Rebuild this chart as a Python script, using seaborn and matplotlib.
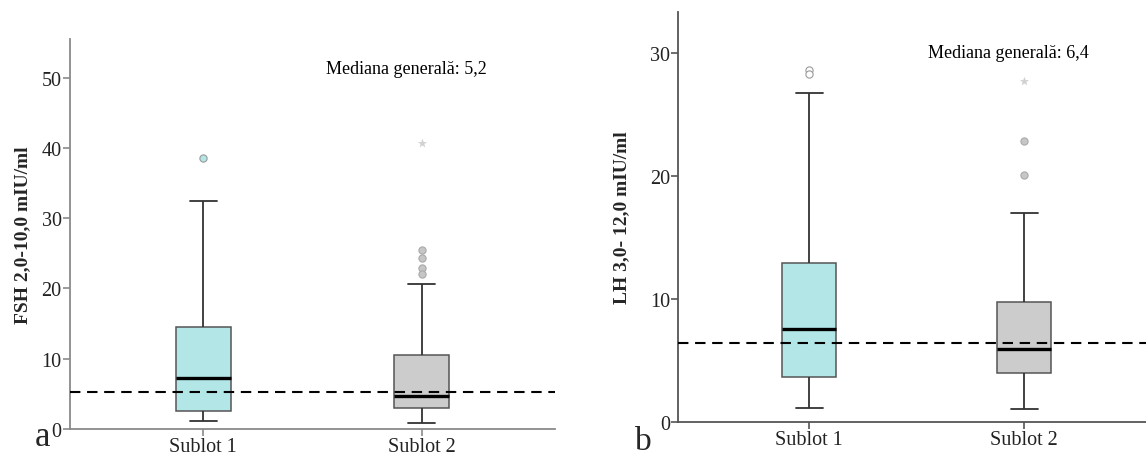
import numpy as np
import pandas as pd
import matplotlib
matplotlib.use("Agg")
import matplotlib.pyplot as plt
import seaborn as sns

# ---------------- data ----------------
categories = ["Sublot 1", "Sublot 2"]

# box summaries: [lower whisker, Q1, median, Q3, upper whisker]
fsh_sublot1 = [1.1, 2.5, 7.3, 14.5, 32.5]
fsh_sublot2 = [0.9, 3.0, 4.75, 10.5, 20.6]
lh_sublot1 = [1.1, 3.66, 7.5, 12.9, 26.7]
lh_sublot2 = [1.0, 4.0, 5.9, 9.75, 17.0]

# outliers (circles) and extremes (stars)
fsh_out1 = [38.5]
fsh_out2 = [25.5, 24.4, 22.9, 22.0]
fsh_ext2 = [40.7]
lh_out1 = [28.6, 28.3]
lh_out2 = [22.8, 20.1]
lh_ext2 = [27.7]

fsh_overall_median = 5.2
lh_overall_median = 6.4

fsh_ylabel = "FSH 2,0-10,0 mIU/ml"
lh_ylabel = "LH 3,0- 12,0 mIU/ml"
fsh_note = "Mediana generală: 5,2"
lh_note = "Mediana generală: 6,4"
fsh_yticks = [0, 10, 20, 30, 40, 50]
lh_yticks = [0, 10, 20, 30]

# ---------------- style ----------------
sns.set_theme(style="white")
plt.rcParams["font.family"] = ["Liberation Serif", "DejaVu Serif"]

CYAN = "#b3e6e7"
GRAY = "#cccccc"
palette = {categories[0]: CYAN, categories[1]: GRAY}

fig = plt.figure(figsize=(11.46, 4.56), dpi=100)
ax1 = fig.add_axes([70 / 1146, 26 / 456, 485 / 1146, 390 / 456])
ax2 = fig.add_axes([678.3 / 1146, 33.3 / 456, 467.7 / 1146, 409.4 / 456])


def draw_panel(ax, s1, s2, out1, out2, ext2, out1_face, out1_edge,
               med, ylabel, note, yticks, ylim, xlim, note_xy, spine_col,
               ylabel_x):
    df = pd.DataFrame({
        "grup": [categories[0]] * len(s1) + [categories[1]] * len(s2),
        "val": list(s1) + list(s2),
    })
    sns.boxplot(data=df, x="grup", y="val", hue="grup", order=categories,
                hue_order=categories, palette=palette, dodge=False,
                saturation=1, whis=np.inf, width=0.25,
                linecolor="#555555", linewidth=1.1,
                legend=False, ax=ax,
                medianprops=dict(color="black", linewidth=2.4),
                whiskerprops=dict(color="#333333", linewidth=1.3),
                capprops=dict(color="#333333", linewidth=1.3))
    # outliers
    sns.stripplot(x=[categories[0]] * len(out1), y=out1, order=categories,
                  jitter=False, marker="o", size=5.2, color=out1_face,
                  edgecolor=out1_edge, linewidth=0.8, ax=ax)
    sns.stripplot(x=[categories[1]] * len(out2), y=out2, order=categories,
                  jitter=False, marker="o", size=5.2, color="#c6c6c6",
                  edgecolor="#aaaaaa", linewidth=0.8, ax=ax)
    sns.stripplot(x=[categories[1]] * len(ext2), y=ext2, order=categories,
                  jitter=False, marker="*", size=6, color="#d0d0d0",
                  edgecolor="#d0d0d0", linewidth=0.3, ax=ax)
    ax.axhline(med, color="black", linestyle=(0, (5, 3.2)), linewidth=1.5,
               zorder=5)
    ax.set_xlim(*xlim)
    ax.set_ylim(*ylim)
    ax.set_yticks(yticks)
    ax.set_yticklabels([str(t) for t in yticks])
    ax.set_xlabel("")
    ax.set_ylabel(ylabel, fontsize=14, fontweight="bold")
    ax.yaxis.set_label_coords(ylabel_x, 0.5)
    ax.text(note_xy[0], note_xy[1], note, fontsize=13, ha="center",
            va="center", color="black")
    for side in ["top", "right"]:
        ax.spines[side].set_visible(False)
    for side in ["left", "bottom"]:
        ax.spines[side].set_color(spine_col)
        ax.spines[side].set_linewidth(1.3)
    ax.tick_params(axis="both", which="both", length=5, width=1.2,
                   color=spine_col, labelsize=14.5, pad=1, left=True,
                   bottom=True, labelcolor="#222222")


draw_panel(ax1, fsh_sublot1, fsh_sublot2, fsh_out1, fsh_out2, fsh_ext2,
           CYAN, "#999999", fsh_overall_median, fsh_ylabel, fsh_note,
           fsh_yticks, (0, 55.5), (-0.61, 1.61), (0.93, 51.3), "#8a8a8a",
           -0.080)
draw_panel(ax2, lh_sublot1, lh_sublot2, lh_out1, lh_out2, lh_ext2,
           "white", "#9a9a9a", lh_overall_median, lh_ylabel, lh_note,
           lh_yticks, (0, 33.3), (-0.609, 1.566), (0.925, 30.0), "#555555",
           -0.103)

fig.text(43 / 1146, 1 - 446 / 456, "a", fontsize=25, ha="center",
         va="baseline")
fig.text(643 / 1146, 1 - 450 / 456, "b", fontsize=24, ha="center",
         va="baseline")

fig.savefig("out.png", dpi=100)
